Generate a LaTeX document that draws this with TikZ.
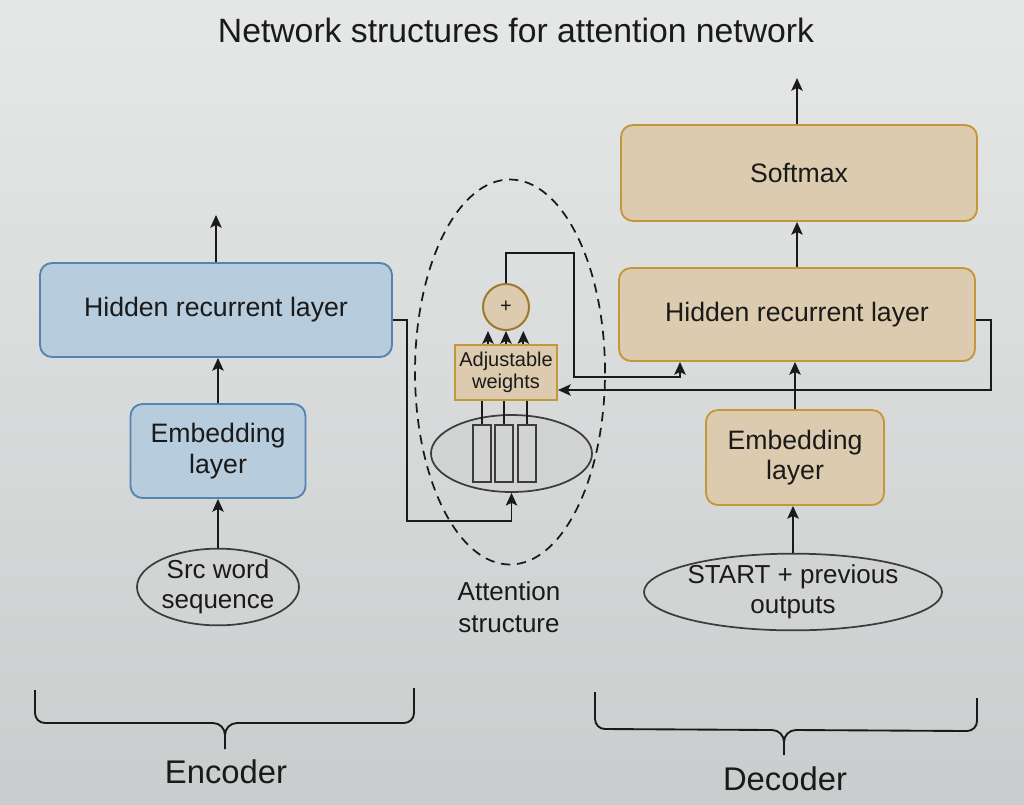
\documentclass[tikz,border=0pt]{standalone}
\usepackage{fontspec}
\setmainfont{Liberation Sans}
\usetikzlibrary{arrows.meta,shapes.geometric,calc}
\definecolor{bgtop}{HTML}{E6E8E8}
\definecolor{bgbot}{HTML}{CACDCD}
\definecolor{bluefill}{HTML}{B7CCDC}
\definecolor{blueline}{HTML}{5684B2}
\definecolor{tanfill}{HTML}{DCCBAE}
\definecolor{tanline}{HTML}{C4973A}
\definecolor{ellfill}{HTML}{D2D4D4}
\definecolor{ink}{HTML}{1A1A1A}
\begin{document}
\begin{tikzpicture}[x=0.75pt,y=-0.75pt,
  every node/.style={text=ink},
  box/.style={draw, rounded corners=9pt, line width=1.4pt, align=center, inner sep=0pt,
    font=\fontsize{20}{23}\selectfont},
  encbox/.style={box, fill=bluefill, draw=blueline},
  decbox/.style={box, fill=tanfill, draw=tanline},
  oval/.style={ellipse, draw=ink!85, fill=ellfill, line width=1.3pt, align=center, inner sep=0pt,
    font=\fontsize{19.5}{22.5}\selectfont},
  slot/.style={rectangle, draw=ink!85, fill=ellfill, line width=1.2pt, inner sep=0pt,
    minimum width=13.5pt, minimum height=42.75pt},
  wire/.style={draw=ink, line width=1.4pt},
  arr/.style={wire, -{Stealth[length=9.5pt,width=8.5pt,inset=2pt]}},
  caption/.style={align=center, font=\fontsize{19.5}{24}\selectfont},
  bigcap/.style={font=\fontsize{24.6}{28}\selectfont},
  brace/.style={draw=ink, line width=1.4pt}
]
\useasboundingbox (0,0) rectangle (1024,804);
\shade[top color=bgtop, bottom color=bgbot] (0,0) rectangle (1024,804);

% title
\node[font=\fontsize{25.3}{30}\selectfont] (title) at (516,30) {Network structures for attention network};

% attention structure outline
\node[ellipse, draw=ink, dash pattern=on 7pt off 5pt, line width=1.3pt,
  minimum width=142.5pt, minimum height=288.75pt, inner sep=0pt] (attn) at (510,372) {};

% encoder
\node[encbox, minimum width=264pt, minimum height=70.5pt] (ench) at (216,310) {Hidden recurrent layer};
\node[encbox, minimum width=131.25pt, minimum height=70.5pt] (encemb) at (218,451) {Embedding\\layer};
\node[oval, minimum width=121.5pt, minimum height=52.5pt] (src) at (218,587) {Src word\\sequence};
\coordinate (encout) at (216,215);

% decoder
\node[decbox, minimum width=267pt, minimum height=72pt] (softmax) at (799,173) {Softmax};
\node[decbox, minimum width=267pt, minimum height=69.75pt] (dech) at (797,314.5) {Hidden recurrent layer};
\node[decbox, minimum width=133.5pt, minimum height=71.25pt] (decemb) at (795,457.5) {Embedding\\layer};
\node[oval, minimum width=216pt, minimum height=54.75pt] (start) at (793,592) {START + previous\\outputs};
\coordinate (decout) at (797,78);

% attention internals
\node[ellipse, draw=ink!85, fill=ellfill, line width=1.3pt, minimum width=120.75pt,
  minimum height=57.75pt, inner sep=0pt] (inner) at (511.5,453.5) {};
\node[slot] (r1) at (482,453.5) {};
\node[slot] (r2) at (504,453.5) {};
\node[slot] (r3) at (527,453.5) {};
\node[rectangle, draw=tanline, fill=tanfill, line width=1.5pt, minimum width=76.5pt,
  minimum height=41.25pt, inner sep=0pt, align=center,
  font=\fontsize{15}{16.5}\selectfont] (weights) at (506,372.5) {Adjustable\\weights};
\node[circle, draw=tanline!80!black, fill=tanfill, line width=1.5pt, minimum size=34.5pt,
  inner sep=0pt, font=\fontsize{15}{15}\selectfont] (plus) at (506,307) {+};
\node[caption] (attncap) at (509,607) {Attention\\structure};

% encoder connectors
\draw[arr] (src.north) -- (src.north |- encemb.south);
\draw[arr] (encemb.north) -- (encemb.north |- ench.south);
\draw[arr] (ench.north) -- (encout);
\coordinate (j1) at (407,521);
\draw[arr] ([yshift=-7.5pt]ench.east) -| (j1) -| (inner.south);

% attention connectors
\draw[wire] (r1.north) -- (r1.north |- weights.south);
\draw[wire] (r2.north) -- (r2.north |- weights.south);
\draw[wire] (r3.north) -- (r3.north |- weights.south);
\draw[arr] ([xshift=-13.5pt]weights.north) -- ([xshift=-13.5pt]weights.north |- plus.south);
\draw[arr] (weights.north) -- (plus.south);
\draw[arr] ([xshift=13pt]weights.north) -- ([xshift=13pt]weights.north |- plus.south);
\coordinate (k1) at (574,253);
\coordinate (k2) at (680,377);
\draw[arr] (plus.north) |- (k1) |- (k2) -- (k2 |- dech.south);
\coordinate (m1) at (991,390);
\draw[arr] ([yshift=-4pt]dech.east) -| (m1) -- (m1 -| weights.east);

% decoder connectors
\draw[arr] (start.north) -- (start.north |- decemb.south);
\draw[arr] (decemb.north) -- (decemb.north |- dech.south);
\draw[arr] (dech.north) -- (dech.north |- softmax.south);
\draw[arr] (dech.north |- softmax.north) -- (decout);

% braces
\draw[brace] (35,690) -- (35,713) to[out=-90,in=180] (45,723) -- (213,723)
  to[out=0,in=90] (225,735) -- (225,749);
\draw[brace] (414,688) -- (414,713) to[out=-90,in=0] (404,723) -- (237,723)
  to[out=180,in=90] (225,735);
\node[bigcap] (enclab) at (226,772) {Encoder};

\draw[brace] (595,692) -- (595,719) to[out=-90,in=180] (605,729) -- (772,730)
  to[out=0,in=90] (784,742) -- (784,755);
\draw[brace] (977,698) -- (977,721) to[out=-90,in=0] (967,731) -- (796,730)
  to[out=180,in=90] (784,742);
\node[bigcap] (declab) at (785,779) {Decoder};
\end{tikzpicture}
\end{document}
